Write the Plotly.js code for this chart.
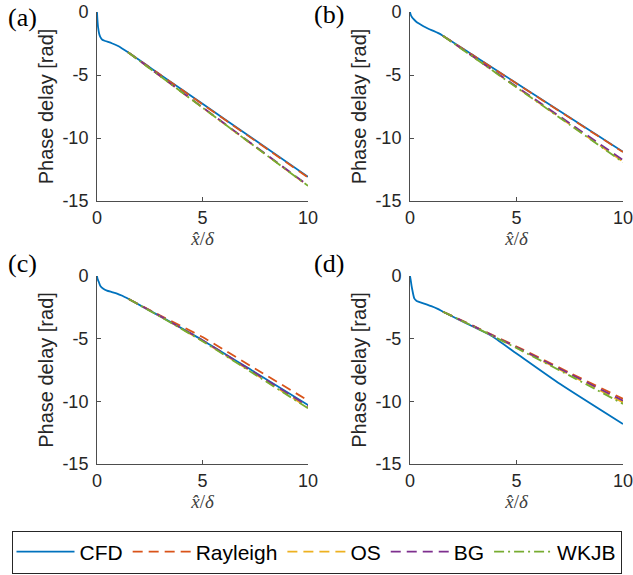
<!DOCTYPE html>
<html>
<head>
<meta charset="utf-8">
<script src="https://cdn.plot.ly/plotly-3.0.1.min.js"></script>
<style>html,body{margin:0;padding:0;background:#fff;}#chart{width:633px;height:575px;}</style>
</head>
<body>
<div id="chart"></div>
<script>
// ---- Data ----
const seriesNames = ["CFD", "Rayleigh", "OS", "BG", "WKJB"];
const panelLabels = ["(a)", "(b)", "(c)", "(d)"];
const xTickVals = [0, 5, 10];
const xTickText = ["0", "5", "10"];
const yTickVals = [0, -5, -10, -15];
const yTickText = ["0", "-5", "-10", "-15"];

// Panel (a)
const cfdX_a = [0, 0.02, 0.05, 0.1, 0.16, 0.25, 0.39, 0.7, 1.0, 1.47, 3, 5, 7.5, 10];
const cfdY_a = [0, -0.6, -1.2, -1.7, -2.0, -2.2, -2.3, -2.48, -2.7, -3.2, -4.97, -7.29, -10.18, -13.08];
const modelX_a = [1.47, 3, 5, 7.5, 10];
const rayleigh_a = [-3.2, -4.98, -7.32, -10.22, -13.13];
const os_a = [-3.2, -5.1, -7.59, -10.7, -13.8];
const bg_a = [-3.2, -5.08, -7.56, -10.66, -13.76];
const wkjb_a = [-3.2, -5.1, -7.59, -10.7, -13.8];

// Panel (b)
const cfdX_b = [0, 0.03, 0.08, 0.16, 0.28, 0.4, 0.63, 0.86, 1.1, 1.33, 1.54, 3, 5, 7.5, 10];
const cfdY_b = [0, -0.2, -0.38, -0.55, -0.75, -0.9, -1.13, -1.33, -1.5, -1.68, -1.88, -3.47, -5.65, -8.37, -11.09];
const modelX_b = [1.54, 3, 5, 7.5, 10];
const rayleigh_b = [-1.88, -3.48, -5.67, -8.4, -11.12];
const os_b = [-1.88, -3.6, -5.97, -8.92, -11.88];
const bg_b = [-1.88, -3.58, -5.92, -8.83, -11.75];
const wkjb_b = [-1.88, -3.61, -5.98, -8.95, -11.92];

// Panel (c)
const cfdX_c = [0, 0.03, 0.08, 0.16, 0.3, 0.47, 0.7, 0.95, 1.2, 1.5, 3, 5, 7.5, 10];
const cfdY_c = [0, -0.25, -0.45, -0.8, -1.02, -1.17, -1.28, -1.4, -1.58, -1.84, -3.22, -5.12, -7.7, -10.3];
const modelX_c = [1.5, 3, 5, 7.5, 10];
const rayleigh_c = [-1.84, -3.15, -4.87, -7.4, -9.93];
const os_c = [-1.84, -3.22, -5.18, -7.83, -10.5];
const bg_c = [-1.84, -3.2, -5.12, -7.75, -10.38];
const wkjb_c = [-1.84, -3.24, -5.2, -7.87, -10.55];

// Panel (d)
const cfdX_d = [0, 0.03, 0.07, 0.11, 0.2, 0.3, 0.39, 0.7, 1.0, 1.3, 1.55, 2.2, 2.9, 3.76, 5, 7.05, 10];
const cfdY_d = [0, -0.3, -0.75, -1.12, -1.78, -1.97, -2.05, -2.22, -2.4, -2.62, -2.85, -3.4, -3.99, -4.71, -6.18, -8.62, -11.81];
const modelX_d = [1.55, 3, 5, 7.5, 10];
const rayleigh_d = [-2.85, -4.0, -5.62, -7.72, -9.8];
const os_d = [-2.85, -4.03, -5.72, -7.88, -10.08];
const bg_d = [-2.85, -4.02, -5.68, -7.8, -9.95];
const wkjb_d = [-2.85, -4.04, -5.75, -7.95, -10.2];

// ---- Styles ----
const colors = ["#0072BD", "#D95319", "#EDB120", "#7E2F8E", "#77AC30"];
const dashes = ["solid", "10px,6px", "10px,6px", "10px,6px", "10px,4px,2px,4px"];
const W = 633, H = 575;
const panelsPx = [
  {x0: 97, x1: 308, y0: 12, y1: 201},
  {x0: 410, x1: 623, y0: 12, y1: 201},
  {x0: 97, x1: 308, y0: 276, y1: 464},
  {x0: 410, x1: 623, y0: 276, y1: 464}
];
const labelPx = [{x: 6, y: 17}, {x: 312, y: 15}, {x: 6, y: 263}, {x: 312, y: 263}];

const panels = [
  {cx: cfdX_a, cy: cfdY_a, mx: modelX_a, m: [rayleigh_a, os_a, bg_a, wkjb_a]},
  {cx: cfdX_b, cy: cfdY_b, mx: modelX_b, m: [rayleigh_b, os_b, bg_b, wkjb_b]},
  {cx: cfdX_c, cy: cfdY_c, mx: modelX_c, m: [rayleigh_c, os_c, bg_c, wkjb_c]},
  {cx: cfdX_d, cy: cfdY_d, mx: modelX_d, m: [rayleigh_d, os_d, bg_d, wkjb_d]}
];

const traces = [];
const layout = {
  width: W, height: H,
  margin: {l: 0, r: 0, t: 0, b: 0},
  paper_bgcolor: "#ffffff", plot_bgcolor: "#ffffff",
  font: {family: "Liberation Sans, Arial, sans-serif", size: 18, color: "#262626"},
  showlegend: true,
  legend: {
    orientation: "h", x: 0.5, xanchor: "center", y: 1 - 552 / H, yanchor: "middle",
    bordercolor: "#262626", borderwidth: 1, bgcolor: "#ffffff",
    font: {family: "Liberation Sans, Arial, sans-serif", size: 21, color: "#000000"},
    itemwidth: 58, tracegroupgap: 0
  },
  annotations: []
};

panels.forEach((p, i) => {
  const n = i + 1;
  const xa = n === 1 ? "x" : "x" + n;
  const ya = n === 1 ? "y" : "y" + n;
  const px = panelsPx[i];
  traces.push({
    x: p.cx, y: p.cy, type: "scatter", mode: "lines", name: seriesNames[0],
    xaxis: xa, yaxis: ya, legendgroup: seriesNames[0], showlegend: i === 0,
    line: {color: colors[0], width: 1.8, shape: "spline", smoothing: 0.6}
  });
  p.m.forEach((ys, k) => {
    traces.push({
      x: p.mx, y: ys, type: "scatter", mode: "lines", name: seriesNames[k + 1],
      xaxis: xa, yaxis: ya, legendgroup: seriesNames[k + 1], showlegend: i === 0,
      line: {color: colors[k + 1], width: 1.8, dash: dashes[k + 1], shape: "spline", smoothing: 0.4}
    });
  });
  const axCommon = {
    showgrid: false, zeroline: false, showline: true, linecolor: "#4d4d4d", linewidth: 1,
    ticks: "inside", ticklen: 4, tickcolor: "#4d4d4d", mirror: false,
    tickfont: {family: "Liberation Sans, Arial, sans-serif", size: 18, color: "#262626"},
    ticklabeloverflow: "allow", fixedrange: true
  };
  layout["xaxis" + (n === 1 ? "" : n)] = Object.assign({}, axCommon, {
    domain: [px.x0 / W, px.x1 / W], anchor: ya, range: [0, 10],
    tickmode: "array", tickvals: xTickVals, ticktext: xTickText,
    title: {text: "<i>x̂</i>/<i>δ</i>", font: {family: "Liberation Serif, Times New Roman, serif", size: 19, color: "#404040"}, standoff: 4}
  });
  layout["yaxis" + (n === 1 ? "" : n)] = Object.assign({}, axCommon, {
    domain: [1 - px.y1 / H, 1 - px.y0 / H], anchor: xa, range: [-15, 0],
    tickmode: "array", tickvals: yTickVals, ticktext: yTickText, ticklabelstandoff: 4,
    title: {text: "Phase delay [rad]", font: {family: "Liberation Sans, Arial, sans-serif", size: 20, color: "#262626"}, standoff: 3}
  });
  layout.annotations.push({
    text: panelLabels[i], xref: "paper", yref: "paper",
    x: labelPx[i].x / W, y: 1 - labelPx[i].y / H, xanchor: "left", yanchor: "middle",
    showarrow: false, font: {family: "Liberation Serif, Times New Roman, serif", size: 26, color: "#000000"}
  });
});

Plotly.newPlot("chart", traces, layout, {displayModeBar: false, staticPlot: true});
</script>
</body>
</html>
